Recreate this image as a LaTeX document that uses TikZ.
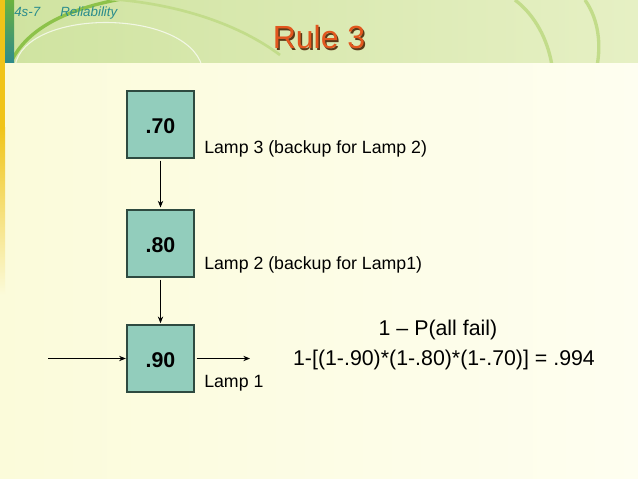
\documentclass[tikz,border=0pt]{standalone}
\usepackage{fontspec}
\setmainfont{Liberation Sans}
\usetikzlibrary{arrows.meta}
\definecolor{hdrL}{HTML}{CFE3A0}
\definecolor{hdrR}{HTML}{E6F0C4}
\definecolor{bgL}{HTML}{FBFBDA}
\definecolor{bgR}{HTML}{FEFEF0}
\definecolor{boxfill}{HTML}{92CDBC}
\definecolor{boxline}{HTML}{2E4A40}
\definecolor{titlec}{HTML}{E2571E}
\definecolor{titlesh}{HTML}{5A3A18}
\definecolor{subc}{HTML}{2A8C8C}
\definecolor{stripeY}{HTML}{F0C419}
\definecolor{stripeG}{HTML}{6BB33E}
\definecolor{stripeT}{HTML}{2E8A8C}
\definecolor{arcD}{HTML}{8DC24A}
\definecolor{arcL}{HTML}{C2DC8A}
\begin{document}
\begin{tikzpicture}[x=0.75pt,y=-0.75pt,
  lampbox/.style={draw=boxline, fill=boxfill, line width=0.8pt, minimum width=50.25pt, minimum height=50.25pt, inner sep=0pt, text height=13pt, text depth=0pt, font=\fontsize{16}{19}\selectfont\bfseries},
  lbl/.style={anchor=base west, inner sep=0pt, font=\fontsize{13.3}{16}\selectfont},
  eq/.style={anchor=base, inner sep=0pt, font=\fontsize{16}{19}\selectfont},
  conn/.style={-{Stealth[length=5pt,width=4pt]}, line width=0.6pt}]
\useasboundingbox (0,0) rectangle (638,478);
% background
\fill[left color=bgL, right color=bgR] (0,0) rectangle (638,478);
\fill[left color=hdrL, right color=hdrR] (0,0) rectangle (638,63);
\begin{scope}
  \clip (14,0) rectangle (638,63);
  \draw[arcD, line width=2.5pt] (12,60) .. controls (30,25) and (75,5) .. (140,-4);
  \draw[arcL, line width=2pt] (110,-1) .. controls (180,4) and (240,25) .. (280,55);
  \draw[white, opacity=0.7, line width=0.8pt] (15,66) .. controls (25,8) and (185,8) .. (202,66);
  \draw[arcL, line width=2.5pt] (515,0) .. controls (535,15) and (548,40) .. (552,66);
  \draw[arcL, line width=2.5pt] (585,0) .. controls (599,20) and (601,45) .. (597,66);
\end{scope}
\fill[stripeY] (0,0) rectangle (5,127);
\fill[top color=stripeY, bottom color=bgL] (0,127) rectangle (5,295);
\fill[top color=stripeG, bottom color=stripeT] (5,0) rectangle (14,63);
% header texts
\node[anchor=base west, inner sep=0pt, text=subc, font=\fontsize{10}{12}\selectfont\itshape] (num) at (14,17) {4s-7};
\node[anchor=base west, inner sep=0pt, text=subc, font=\fontsize{10}{12}\selectfont\itshape] (rel) at (60,17) {Reliability};
\node[anchor=base, inner sep=0pt, text=titlesh, font=\fontsize{24}{28}\selectfont] (titlesh) at (320.5,50.5) {Rule 3};
\node[anchor=base, inner sep=0pt, text=titlec, font=\fontsize{24}{28}\selectfont] (title) at (319,49) {Rule 3};
% boxes
\node[lampbox] (b70) at (160.5,124.5) {.70};
\node[lampbox] (b80) at (160.5,243.5) {.80};
\node[lampbox] (b90) at (160.5,358.5) {.90};
% connectors
\draw[conn, shorten <=1.5pt, shorten >=1.5pt] (b70) -- (b80);
\draw[conn, shorten <=1.5pt, shorten >=1pt] (b80) -- (b90);
\coordinate (in) at (48,358.5);
\coordinate (out) at (250,358.5);
\draw[conn, shorten >=0.5pt] (in) -- (b90.west);
\draw[conn, shorten <=1.5pt] (b90.east) -- (out);
% labels
\node[lbl] (l3) at (204,153) {Lamp 3 (backup for Lamp 2)};
\node[lbl] (l2) at (204,269) {Lamp 2 (backup for Lamp1)};
\node[lbl] (l1) at (204,387) {Lamp 1};
\node[eq] (e1) at (438,335.5) {1 – P(all fail)};
\node[eq] (e2) at (444,365) {1-[(1-.90)*(1-.80)*(1-.70)] = .994};
\end{tikzpicture}
\end{document}
